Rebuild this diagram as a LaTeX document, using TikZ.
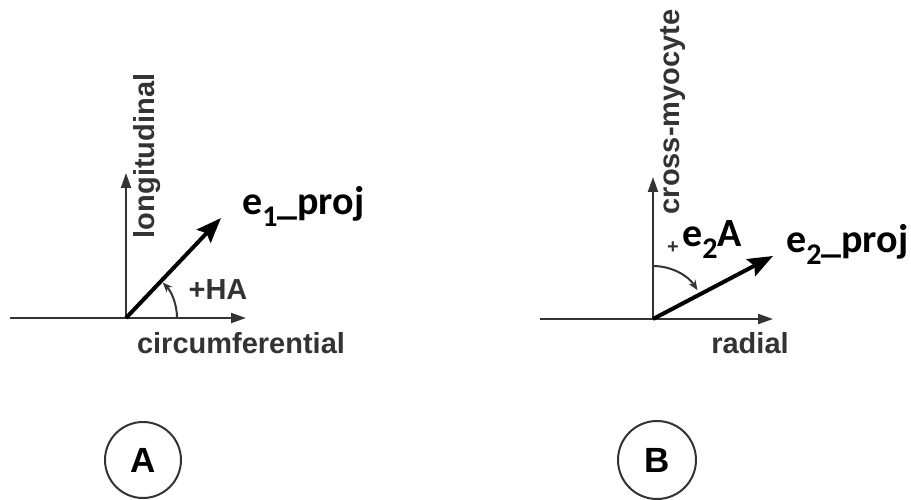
\documentclass[tikz,border=0pt]{standalone}
\usepackage{fontspec}
\setmainfont{Liberation Sans}
\newfontfamily\calfont{Carlito}
\usetikzlibrary{arrows.meta}
\definecolor{axgray}{HTML}{333333}
\tikzset{
  axis/.style={line width=2pt, draw=axgray, -{Triangle[length=15pt,width=10pt]}},
  vec/.style={line width=4pt, draw=black, -{Stealth[length=25pt,width=19pt,inset=4pt]}},
  angarc/.style={line width=2pt, draw=axgray, -{Stealth[length=10pt,width=8pt]}},
  axlab/.style={font=\fontsize{29}{30}\selectfont\bfseries, text=axgray, inner sep=0pt},
  elab/.style={font=\calfont\fontsize{40}{42}\selectfont\bfseries, inner sep=0pt, anchor=base west},
  letter/.style={circle, draw=axgray, line width=2pt, minimum size=76pt, inner sep=0pt,
     font=\fontsize{35}{36}\selectfont\bfseries}
}
\newcommand{\lowsub}[1]{\raisebox{-0.3em}{\fontsize{30}{31}\selectfont #1}}
\begin{document}
\begin{tikzpicture}[x=1pt,y=1pt]
\useasboundingbox (0,0) rectangle (911,499);
% ---------- Panel A ----------
\coordinate (OA) at (126,181);
\coordinate (LA) at (10,181);
\coordinate (RA) at (246,181);
\coordinate (TA) at (126,326);
\coordinate (E1) at (221,281);
\draw[line width=2pt, draw=axgray] (LA) -- (OA);
\draw[axis] (OA) -- (RA);
\draw[axis] (OA) -- (TA);
\draw[vec] (OA) -- (E1);
\draw[angarc] ([shift={(0:51)}]OA) arc[start angle=0, end angle=44, radius=51];
\node[axlab, rotate=90] (lon) at (147,343) {longitudinal};
\node[axlab] (circ) at (241,156) {circumferential};
\node[axlab] (ha) at (218,209) {+HA};
\node[elab] (e1) at (242,284) {e\lowsub{1}\_proj};
\node[letter] (A) at (143,39) {A};
% ---------- Panel B ----------
\coordinate (OB) at (653,180);
\coordinate (LB) at (540,180);
\coordinate (RB) at (773,180);
\coordinate (TB) at (653,322);
\coordinate (E2) at (773,243);
\draw[line width=2pt, draw=axgray] (LB) -- (OB);
\draw[axis] (OB) -- (RB);
\draw[axis] (OB) -- (TB);
\draw[vec] (OB) -- (E2);
\draw[angarc] ([shift={(90:53)}]OB) arc[start angle=90, end angle=33, radius=53];
\node[axlab, rotate=90] (cm) at (673,387) {cross-myocyte};
\node[axlab] (rad) at (750,156) {radial};
\node[font=\fontsize{20}{20}\selectfont\bfseries, text=axgray, inner sep=0pt] (plus) at (673,251) {+};
\node[elab] (e2a) at (682,252) {e\lowsub{2}A};
\node[elab] (e2) at (786,247) {e\lowsub{2}\_proj};
\node[letter, minimum size=78pt] (B) at (657,39) {B};
\end{tikzpicture}
\end{document}
